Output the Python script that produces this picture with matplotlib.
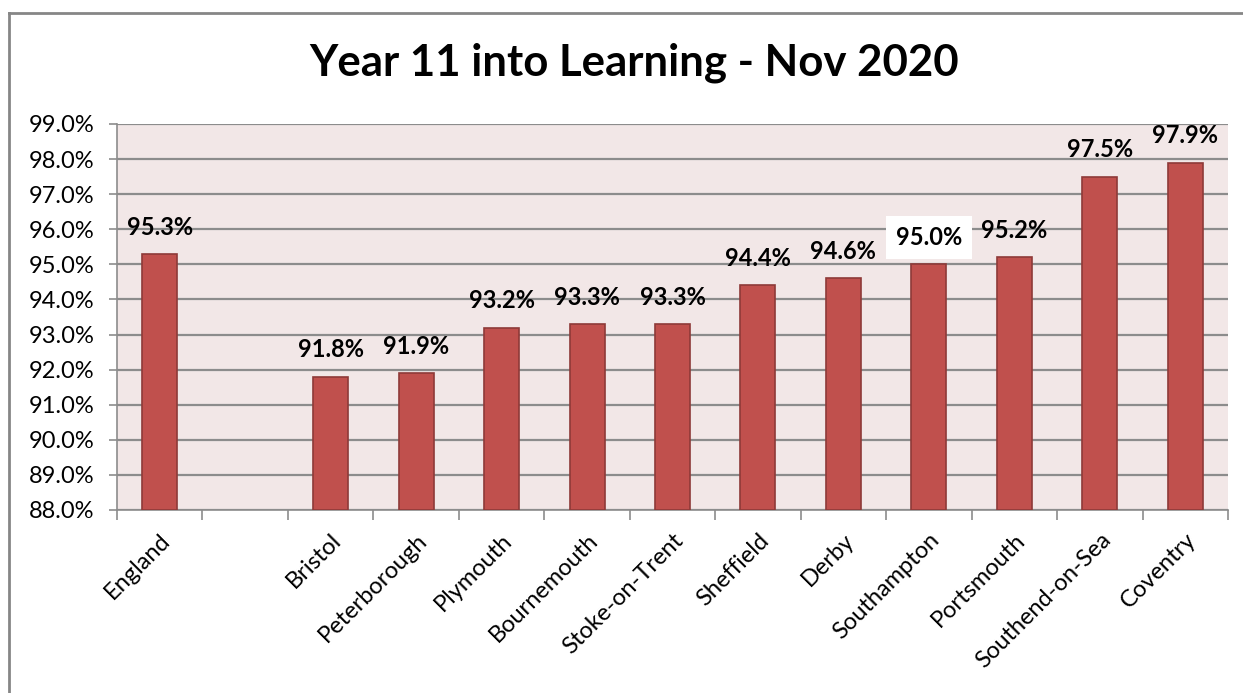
import matplotlib
matplotlib.use("Agg")
import matplotlib.pyplot as plt
from matplotlib.lines import Line2D
from matplotlib.ticker import FuncFormatter

categories = ["England", "", "Bristol", "Peterborough", "Plymouth", "Bournemouth",
              "Stoke-on-Trent", "Sheffield", "Derby", "Southampton", "Portsmouth",
              "Southend-on-Sea", "Coventry"]
values = [95.3, None, 91.8, 91.9, 93.2, 93.3, 93.3, 94.4, 94.6, 95.0, 95.2, 97.5, 97.9]
highlight = "Southampton"

plt.rcParams["font.family"] = ["Lato", "DejaVu Sans"]

fig = plt.figure(figsize=(12.43, 6.93), dpi=100)
ax = fig.add_axes([117 / 1243, 1 - 510 / 693, (1228 - 117) / 1243, (510 - 124) / 693])

ax.set_facecolor("#F2E7E7")
ax.set_ylim(88, 99)
ax.set_xlim(-0.5, len(categories) - 0.5)
ax.set_yticks(range(88, 100))
ax.yaxis.set_major_formatter(FuncFormatter(lambda v, p: f"{v:.1f}%"))
ax.grid(axis="y", color="#8C8C8C", linewidth=1.6)
ax.set_axisbelow(True)

xs = [i for i, v in enumerate(values) if v is not None]
hs = [v for v in values if v is not None]
ax.bar(xs, [h - 88 for h in hs], bottom=88, width=0.41, color="#C0504D",
       edgecolor="#8E3A38", linewidth=1.2, zorder=3)

for i, v in zip(xs, hs):
    box = None
    if categories[i] == highlight:
        box = dict(facecolor="white", edgecolor="none", pad=7)
    ax.annotate(f"{v:.1f}%", (i, v), xytext=(0, 11), textcoords="offset points",
                ha="center", va="bottom", fontsize=17, fontweight="bold",
                bbox=box, zorder=4)

ax.set_xticks([i for i in range(len(categories))])
ax.set_xticklabels(categories, rotation=45, ha="right", rotation_mode="anchor",
                   fontsize=17)
ax.tick_params(axis="x", length=0, pad=14)
ax.set_xticks([i + 0.5 for i in range(-1, len(categories))], minor=True)
ax.tick_params(axis="x", which="minor", length=7, color="#8C8C8C", width=1.2)
ax.tick_params(axis="y", length=6, color="#8C8C8C", width=1.2, labelsize=17, pad=10)

for s in ["top", "right"]:
    ax.spines[s].set_visible(False)
for s in ["left", "bottom"]:
    ax.spines[s].set_color("#8C8C8C")
    ax.spines[s].set_linewidth(1.2)

fig.text(634 / 1243, 1 - 63 / 693, "Year 11 into Learning - Nov 2020",
         ha="center", va="center", fontsize=31.5, fontweight="bold")

fig.add_artist(Line2D([9 / 1243, 1], [1 - 12.5 / 693, 1 - 12.5 / 693],
                      color="#868686", linewidth=2, transform=fig.transFigure))
fig.add_artist(Line2D([9 / 1243, 9 / 1243], [0, 1 - 12.5 / 693],
                      color="#868686", linewidth=2, transform=fig.transFigure))

fig.savefig("out.png", dpi=100, facecolor="white")
